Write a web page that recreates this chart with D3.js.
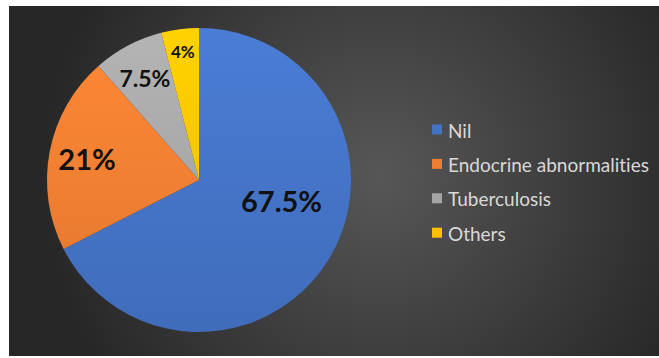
<!DOCTYPE html>
<html><head><meta charset="utf-8">
<script src="https://cdn.jsdelivr.net/npm/d3@7/dist/d3.min.js"></script>
<style>html,body{margin:0;padding:0;background:#fff;}svg{display:block;}text{font-variant-ligatures:none;font-feature-settings:"liga" 0;}</style>
</head><body>
<svg id="chart" width="659" height="358"></svg>
<script>
const categories = ["Nil", "Endocrine abnormalities", "Tuberculosis", "Others"];
const values = [67.5, 21, 7.5, 4];
const labels = ["67.5%", "21%", "7.5%", "4%"];
const colors = ["#4472C4", "#ED7D31", "#A5A5A5", "#FFC000"];

const W = 659, H = 358;
const svg = d3.select("#chart");
const defs = svg.append("defs");

// background radial gradient
const bg = defs.append("radialGradient").attr("id", "bg")
  .attr("gradientUnits", "userSpaceOnUse")
  .attr("cx", 380).attr("cy", 175).attr("r", 340);
bg.append("stop").attr("offset", "0%").attr("stop-color", "#575757");
bg.append("stop").attr("offset", "100%").attr("stop-color", "#272727");
svg.append("rect").attr("x", 9).attr("y", 6).attr("width", W - 9).attr("height", 350).attr("fill", "url(#bg)");

const cx = 199, cy = 180, R = 152;
const g = svg.append("g").attr("transform", `translate(${cx},${cy})`);

colors.forEach((c, i) => {
  const lg = defs.append("linearGradient").attr("id", "sg" + i)
    .attr("gradientUnits", "userSpaceOnUse")
    .attr("x1", 0).attr("y1", -R).attr("x2", 0).attr("y2", R);
  lg.append("stop").attr("offset", "0%").attr("stop-color", d3.color(c).brighter(0.25));
  lg.append("stop").attr("offset", "100%").attr("stop-color", d3.color(c).darker(0.15));
});

const pie = d3.pie().sort(null).value(d => d)(values);
const arc = d3.arc().innerRadius(0).outerRadius(R);

g.selectAll("path.slice").data(pie).join("path")
  .attr("class", "slice")
  .attr("d", arc)
  .attr("fill", (d, i) => `url(#sg${i})`);

// label placement (fraction of radius, optional angle override in degrees)
const labelRad = [0.56, 0.75, 0.76, 0.85];
const labelAng = [104, null, null, null];
const labelSize = [29, 29, 23, 17];
g.selectAll("text.lbl").data(pie).join("text")
  .attr("class", "lbl")
  .attr("x", (d, i) => {
    const a = labelAng[i] != null ? labelAng[i] * Math.PI / 180 : (d.startAngle + d.endAngle) / 2;
    return Math.sin(a) * R * labelRad[i];
  })
  .attr("y", (d, i) => {
    const a = labelAng[i] != null ? labelAng[i] * Math.PI / 180 : (d.startAngle + d.endAngle) / 2;
    return -Math.cos(a) * R * labelRad[i];
  })
  .attr("text-anchor", "middle")
  .attr("dominant-baseline", "central")
  .style("font-family", "Lato, 'Open Sans', sans-serif")
  .style("font-weight", "bold")
  .style("font-size", (d, i) => labelSize[i] + "px")
  .attr("fill", "#111")
  .text((d, i) => labels[i]);

// legend
const leg = svg.append("g").attr("transform", "translate(432,130)");
const rowH = 34.4;
const items = leg.selectAll("g").data(categories).join("g")
  .attr("transform", (d, i) => `translate(0,${i * rowH})`);
items.append("rect").attr("x", 0).attr("y", -5.5).attr("width", 10).attr("height", 10)
  .attr("fill", (d, i) => colors[i]);
items.append("text").attr("x", 16).attr("y", 0)
  .attr("dominant-baseline", "central")
  .style("font-family", "Lato, 'Open Sans', sans-serif")
  .style("font-size", "19px")
  .attr("fill", "#d9d9d9")
  .text(d => d);
</script>
</body></html>
